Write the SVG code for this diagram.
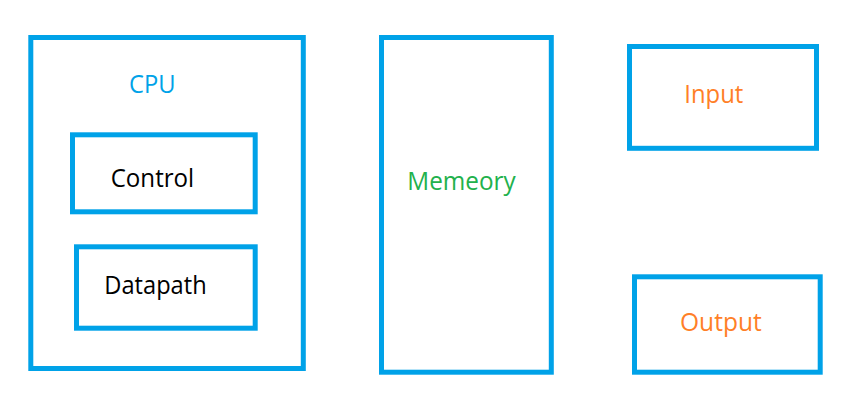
<svg xmlns="http://www.w3.org/2000/svg" width="862" height="402" viewBox="0 0 862 402">
<style>
.box{fill:none;stroke:#00A2E8;stroke-width:5}
text{font-family:"Open Sans","Noto Sans","DejaVu Sans",sans-serif;font-size:25.5px}
.blue{fill:#00A2E8}
.black{fill:#000000}
.green{fill:#22B14C}
.orange{fill:#FF7F27}
</style>
<rect width="862" height="402" fill="#ffffff"/>
<g id="cpu">
<rect class="box" x="30.8" y="37.5" width="272.5" height="331"/>
<text class="blue" x="129" y="93" textLength="46.5" lengthAdjust="spacingAndGlyphs">CPU</text>
</g>
<g id="control">
<rect class="box" x="72.5" y="134.8" width="182.7" height="77"/>
<text class="black" x="110.7" y="187" textLength="83.5" lengthAdjust="spacingAndGlyphs">Control</text>
</g>
<g id="datapath">
<rect class="box" x="76.5" y="246.8" width="178.7" height="81.4"/>
<text class="black" x="104.3" y="294" textLength="102.4" lengthAdjust="spacingAndGlyphs">Datapath</text>
</g>
<g id="memory">
<rect class="box" x="381.5" y="37.5" width="169.8" height="334.7"/>
<text class="green" x="407.3" y="190" textLength="108.4" lengthAdjust="spacingAndGlyphs">Memeory</text>
</g>
<g id="input">
<rect class="box" x="629.5" y="46.5" width="187" height="101.8"/>
<text class="orange" x="684.3" y="102.5" textLength="59" lengthAdjust="spacingAndGlyphs">Input</text>
</g>
<g id="output">
<rect class="box" x="634.5" y="276.8" width="185.7" height="95.4"/>
<text class="orange" x="680" y="331" textLength="81.7" lengthAdjust="spacingAndGlyphs">Output</text>
</g>
<g id="connectors"></g>
</svg>
